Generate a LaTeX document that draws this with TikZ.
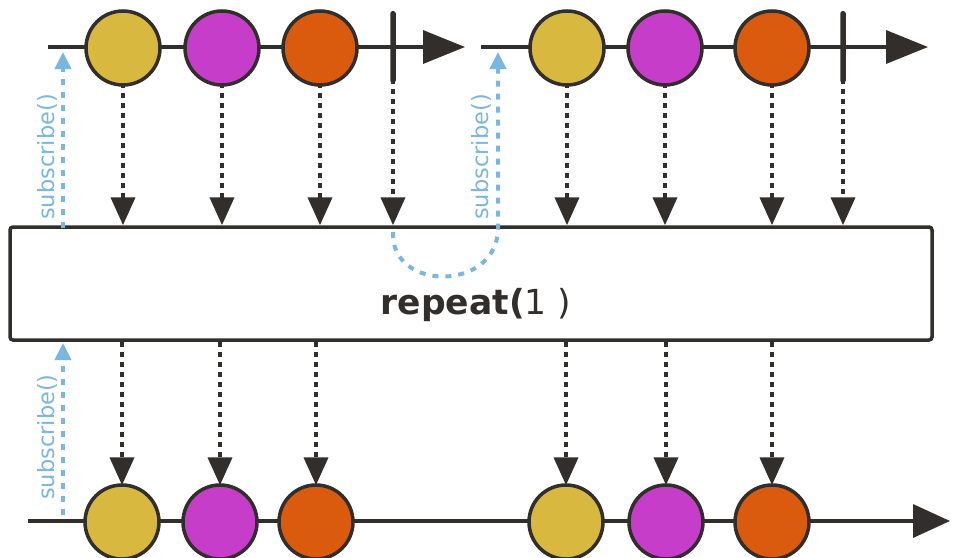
\documentclass[tikz,border=0pt]{standalone}
\usepackage{fontspec}
\setmainfont{DejaVu Sans}
\usetikzlibrary{arrows.meta}
\definecolor{ink}{HTML}{312E2B}
\definecolor{evyellow}{HTML}{D8B83E}
\definecolor{evmagenta}{HTML}{C53DC9}
\definecolor{evorange}{HTML}{DA5B0D}
\definecolor{subblue}{HTML}{7AB6E0}
\tikzset{
  timeline/.style={draw=ink, line width=3.5pt, -{Triangle[length=42pt, width=33pt]}},
  ev/.style={circle, draw=ink, line width=3.5pt, minimum size=74pt, inner sep=0pt},
  donebar/.style={rectangle, fill=ink, minimum width=5.5pt, minimum height=72pt, inner sep=0pt, rounded corners=2.5pt},
  emit/.style={draw=ink, line width=4pt, dash pattern=on 5pt off 5pt, -{Triangle[length=28pt, width=24pt]}},
  sub/.style={draw=subblue, line width=4pt, dash pattern=on 6pt off 7pt, -{Triangle[length=17pt, width=16pt]}},
  sublabel/.style={text=subblue, rotate=90, font=\fontsize{22.5}{26}\selectfont, inner sep=0pt},
  opbox/.style={draw=ink, line width=3.5pt, rounded corners=3pt, minimum width=922pt, minimum height=113pt, inner sep=0pt}
}
\begin{document}
\begin{tikzpicture}[x=1pt, y=-1pt]
\path[use as bounding box] (0,0) rectangle (953,557);

% source timelines (two subscriptions)
\coordinate (s1) at (48,47);
\coordinate (e1) at (465,47);
\coordinate (s2) at (481,47);
\coordinate (e2) at (928,47);
% result timeline
\coordinate (s3) at (28,521);
\coordinate (e3) at (950,521);

\draw[timeline] (s1) -- (e1);
\draw[timeline] (s2) -- (e2);
\draw[draw=ink, line width=3.5pt, -{Triangle[length=37pt, width=33pt]}] (s3) -- (e3);

% first subscription
\node[ev, fill=evyellow]  (a1) at (123,48) {};
\node[ev, fill=evmagenta] (a2) at (222,48) {};
\node[ev, fill=evorange]  (a3) at (320,48) {};
\node[donebar] (c1) at (393,47) {};
% second subscription
\node[ev, fill=evyellow]  (b1) at (567,48) {};
\node[ev, fill=evmagenta] (b2) at (665,48) {};
\node[ev, fill=evorange]  (b3) at (772,48) {};
\node[donebar] (c2) at (843,47) {};
% output
\node[ev, fill=evyellow]  (d1) at (122,522) {};
\node[ev, fill=evmagenta] (d2) at (220,522) {};
\node[ev, fill=evorange]  (d3) at (316,522) {};
\node[ev, fill=evyellow]  (d4) at (566,522) {};
\node[ev, fill=evmagenta] (d5) at (666,522) {};
\node[ev, fill=evorange]  (d6) at (772,522) {};

% operator box
\node[opbox] (op) at (471,283.5) {};
\node[text=ink] (lbl) at (476,305) {\fontsize{34.5}{40}\selectfont\textbf{repeat(}1 )};

% emissions into the operator
\foreach \n in {a1,a2,a3,b1,b2,b3}
  \draw[emit] ([yshift=4pt]\n.south) -- (\n.south |- op.north);
\foreach \n in {c1,c2}
  \draw[emit] ([yshift=4pt]\n.south) -- (\n.south |- op.north);
% emissions out of the operator
\foreach \n in {d1,d2,d3,d4,d5,d6}
  \draw[emit] (\n.north |- op.south) -- ([yshift=-2pt]\n.north);

% subscriptions
\coordinate (u1) at (63,228);
\coordinate (t1) at (63,52);
\draw[sub] (u1) -- (t1);
\node[sublabel] (l1) at (47,157) {subscribe()};

\coordinate (r0) at (393,232);
\coordinate (r1) at (498,228);
\coordinate (t2) at (498,52);
\draw[sub] (r0) .. controls (390,292) and (498,292) .. (r1) -- (t2);
\node[sublabel] (l2) at (481,157) {subscribe()};

\coordinate (u3) at (63,515);
\coordinate (t3) at (63,343);
\draw[sub] (u3) -- (t3);
\node[sublabel] (l3) at (47,437) {subscribe()};
\end{tikzpicture}
\end{document}
